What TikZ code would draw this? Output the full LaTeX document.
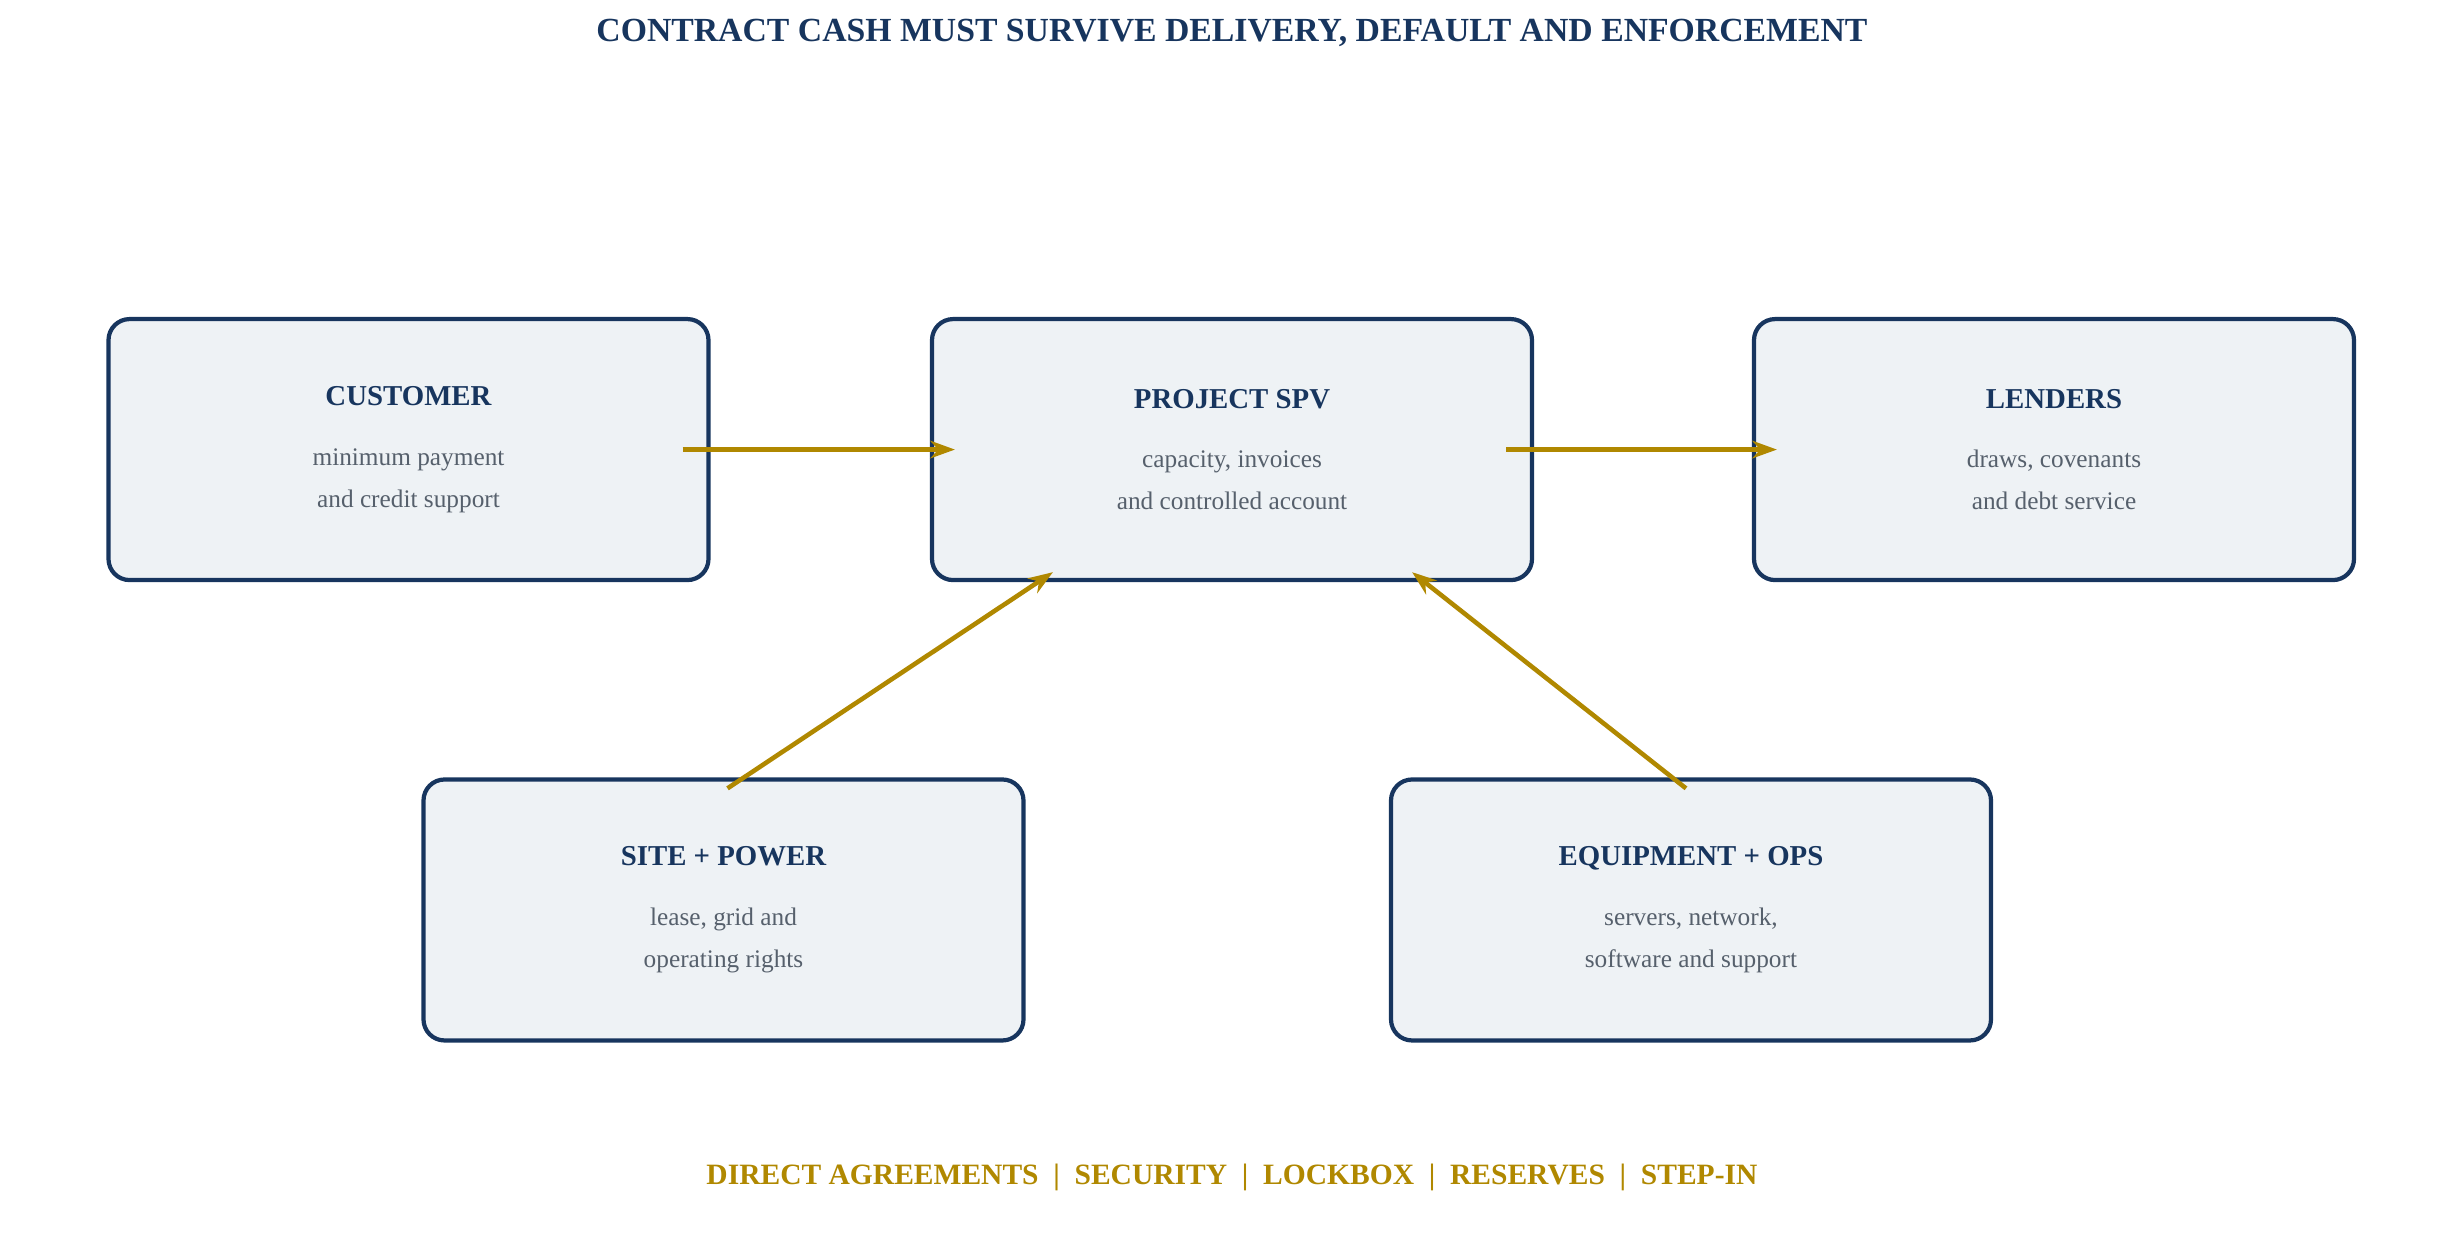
\documentclass[tikz,border=0pt]{standalone}
\usepackage{fontspec}
\setmainfont{Liberation Serif}
\usetikzlibrary{positioning, arrows.meta, calc}
\definecolor{navy}{HTML}{17355E}
\definecolor{boxfill}{HTML}{EEF2F5}
\definecolor{gold}{HTML}{B08800}
\definecolor{subgray}{HTML}{56606C}
\newcommand{\partytext}[3]{{\fontsize{8.2}{9.6}\selectfont\bfseries\color{navy}#1}\\[5pt]%
    {\fontsize{7.2}{8.6}\selectfont\color{subgray}#2}\\{\fontsize{7.2}{8.6}\selectfont\color{subgray}#3}}

\begin{document}
\begin{tikzpicture}[
            >={Stealth[length=7pt, width=5pt]},
            party/.style={rectangle, draw=navy, line width=1.2pt, fill=boxfill, rounded corners=6pt,
                    minimum width=6cm, minimum height=2.61cm, align=center, inner sep=2pt},
            flow/.style={->, line width=1.3pt, gold},
            ]
            \useasboundingbox (0,0) rectangle (24.64,12.54);

            \node[font=\bfseries\fontsize{9.6}{11}\selectfont, text=navy] (title) at (12.32,12.21)
                {CONTRACT CASH MUST SURVIVE DELIVERY, DEFAULT AND ENFORCEMENT};

            \node[party] (customer) at (4.085,8.044) {\partytext{CUSTOMER}{minimum payment}{and credit support}};
            \node[party] (spv) at (12.32,8.044) {\partytext{PROJECT SPV}{capacity, invoices}{and controlled account}};
            \node[party] (lenders) at (20.54,8.044) {\partytext{LENDERS}{draws, covenants}{and debt service}};
            \node[party] (site) at (7.235,3.44) {\partytext{SITE + POWER}{lease, grid and}{operating rights}};
            \node[party] (equip) at (16.91,3.44) {\partytext{EQUIPMENT + OPS}{servers, network,}{software and support}};

            \draw[flow, shorten <=-0.28cm, shorten >=-0.25cm] (customer) -- (spv);
            \draw[flow, shorten <=-0.28cm, shorten >=-0.25cm] (spv) -- (lenders);
            \draw[flow] ($(site.north)+(0.04,-0.11)$) -- ($(spv.south west)+(1.23,0.1)$);
            \draw[flow] ($(equip.north)+(-0.05,-0.11)$) -- ($(spv.south east)+(-1.22,0.1)$);

            \node[font=\bfseries\fontsize{8.4}{10}\selectfont, text=gold] (terms) at (12.32,0.77)
                {DIRECT AGREEMENTS \ | \ SECURITY \ | \ LOCKBOX \ | \ RESERVES \ | \ STEP-IN};
        \end{tikzpicture}
\end{document}
